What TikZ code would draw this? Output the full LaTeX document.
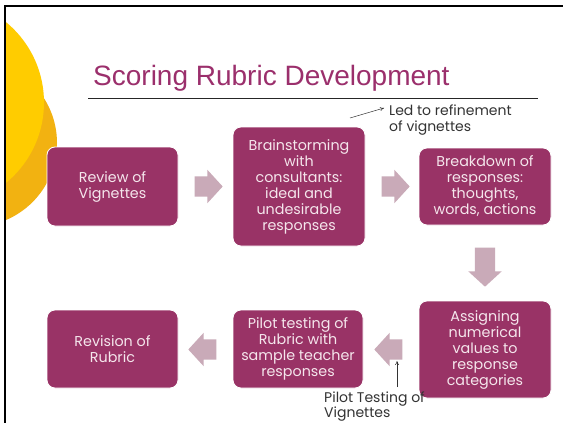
\documentclass[tikz,border=0pt]{standalone}
\usepackage{fontspec}
\setmainfont{Poppins}
\newfontfamily\titlefont{Liberation Sans}
\usetikzlibrary{shapes.arrows,calc,arrows.meta}
\definecolor{maroonc}{HTML}{993366}
\definecolor{titlec}{HTML}{9B2F6C}
\definecolor{arrowc}{HTML}{C9AAB8}
\definecolor{boxtext}{HTML}{F5E6EC}
\definecolor{yellowc}{HTML}{FFCC00}
\definecolor{orangec}{HTML}{F2B211}
\definecolor{notec}{HTML}{333333}
\tikzset{
  box/.style={fill=maroonc, draw=white, line width=0.8pt, rounded corners=8pt,
    text=boxtext, align=center, font=\fontsize{14.3}{16}\selectfont, inner sep=0pt},
  barrow/.style={single arrow, fill=arrowc, draw=none, minimum height=28pt,
    minimum width=33pt, single arrow head extend=6.5pt, single arrow tip angle=95,
    inner xsep=0pt, inner ysep=10pt},
  note/.style={anchor=base west, align=left, text=notec, inner sep=0pt,
    font=\fontsize{14}{16}\selectfont},
  thinarrow/.style={-{To[length=4pt,width=4pt]}, line width=0.5pt, notec}
}
\begin{document}
\begin{tikzpicture}[x=1pt,y=-1pt]
\useasboundingbox (0,0) rectangle (563,423);
\fill[white] (0,0) rectangle (563,423);
\begin{scope}
  \clip (5,5) rectangle (563,423);
  \fill[orangec] (-26.6,143) circle[radius=83.6pt];
  \fill[yellowc] (-60,102.5) circle[radius=104pt];
\end{scope}
\draw[line width=2.7pt] (5,423) -- (5,6) -- (563,6);
% title
\node[anchor=base west, inner sep=0pt, text=titlec,
  font=\titlefont\fontsize{28}{32}\selectfont] (title) at (93,85) {Scoring Rubric Development};
\draw[line width=0.8pt, black!85] (88,98) -- (538,98);
% boxes
\node[box, minimum width=131pt, minimum height=79pt] (b1) at (112.5,186.5) {Review of\\Vignettes};
\node[box, minimum width=132pt, minimum height=119pt] (b2) at (299,186.5) {Brainstorming\\with\\consultants:\\ideal and\\undesirable\\responses};
\node[box, minimum width=132pt, minimum height=77pt] (b3) at (485,186.5) {Breakdown of\\responses:\\thoughts,\\words, actions};
\node[box, minimum width=132pt, minimum height=97pt] (b4) at (485,349.5) {Assigning\\numerical\\values to\\response\\categories};
\node[box, minimum width=130pt, minimum height=78pt] (b5) at (298,349) {Pilot testing of\\Rubric with\\sample teacher\\responses};
\node[box, minimum width=131pt, minimum height=78pt] (b6) at (112.5,349) {Revision of\\Rubric};
% block arrows
\node[barrow] (a1) at (204,186.5) {};
\node[barrow] (a2) at (391,186.5) {};
\node[barrow, minimum height=39pt, rotate=-90] (a3) at (485,262.5) {};
\node[barrow, rotate=180] (a4) at (393,349.5) {};
\node[barrow, rotate=180] (a5) at (207,349.5) {};
% notes
\node[note] (led) at (389,131) {Led to refinement\\of vignettes};
\coordinate (ledstart) at (350,118);
\coordinate (ledend) at (384,108);
\draw[thinarrow] (ledstart) -- (ledend);
\node[note, font=\fontsize{14}{15}\selectfont] (pilot) at (324,417.5) {Pilot Testing of\\Vignettes};
\coordinate (pilotstart) at (397,387);
\coordinate (pilotend) at (397,361);
\draw[thinarrow] (pilotstart) -- (pilotend);
\end{tikzpicture}
\end{document}
